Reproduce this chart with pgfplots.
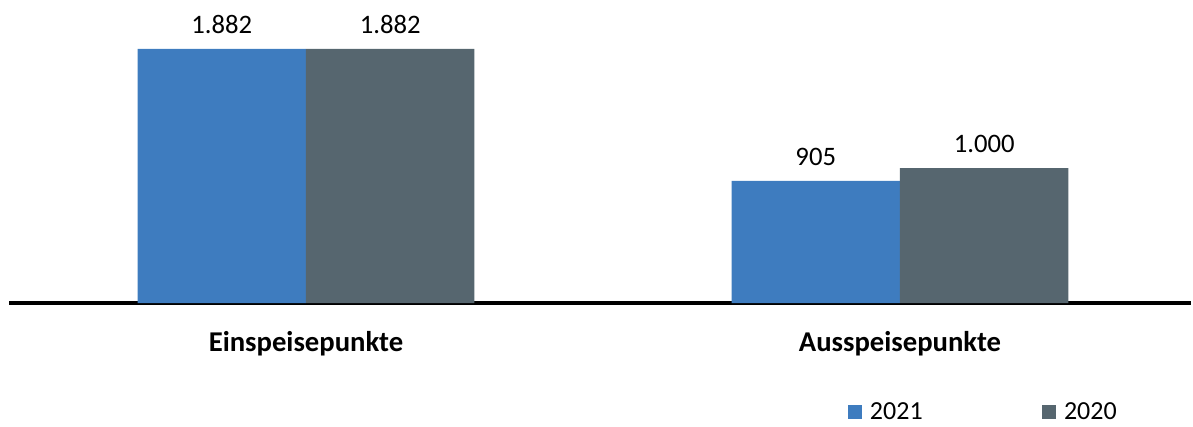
\documentclass[border=0pt]{standalone}
\usepackage{pgfplots}
\pgfplotsset{compat=1.18}
\usepackage{fontspec}
\setmainfont{Carlito}
\definecolor{bluec}{HTML}{3E7CBF}
\definecolor{grayc}{HTML}{56666F}
\begin{document}
\begin{tikzpicture}
\useasboundingbox (-6.75pt,-92.25pt) rectangle (888pt,227.25pt);
\begin{axis}[
  at={(0,0)}, anchor=south west,
  scale only axis,
  width=886.5pt, height=222.75pt,
  xmin=-0.5, xmax=1.49,
  ymin=0, ymax=2200,
  ybar=0pt, bar width=0.2835,
  axis x line=bottom,
  axis y line=none,
  axis line style={line width=3pt, -},
  xtick={0,1},
  xticklabels={Einspeisepunkte,Ausspeisepunkte},
  major tick length=0pt,
  xticklabel style={font=\fontsize{21.5pt}{25pt}\selectfont\bfseries, anchor=north, inner sep=0pt, yshift=-21pt},
  nodes near coords,
  every node near coord/.append style={font=\fontsize{20pt}{24pt}\selectfont, anchor=south, inner sep=0pt, yshift=11.25pt, text=black},
  /pgf/number format/.cd, 1000 sep={.}, fixed, assume math mode=true,
  /pgfplots/.cd,
  clip=false,
  legend columns=2,
  legend style={at={(0.7098,-0.366)}, anchor=west, draw=none, fill=none, inner sep=0pt, outer sep=0pt,
    font=\fontsize{19.5pt}{23pt}\selectfont,
    nodes={inner sep=0pt, anchor=west},
    /tikz/every odd column/.append style={column sep=6pt},
    /tikz/every even column/.append style={column sep=89.5pt}},
]
\addplot[fill=bluec, draw=none, legend image code/.code={\fill[bluec] (0pt,-5.25pt) rectangle (10.5pt,5.25pt);}]
  coordinates {(0,1882) (1,905)};
\addplot[fill=grayc, draw=none, legend image code/.code={\fill[grayc] (0pt,-5.25pt) rectangle (10.5pt,5.25pt);}]
  coordinates {(0,1882) (1,1000)};
\legend{2021,2020}
\end{axis}
\end{tikzpicture}
\end{document}
